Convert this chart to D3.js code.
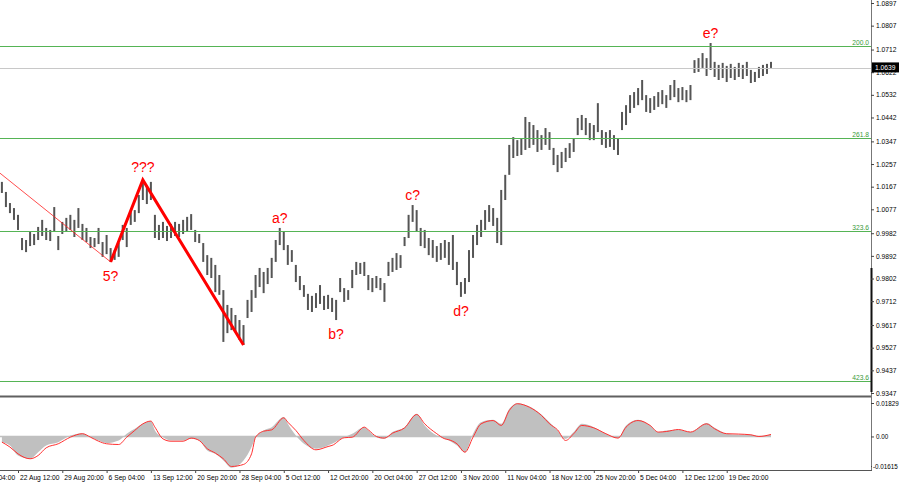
<!DOCTYPE html>
<html><head><meta charset="utf-8">
<script src="https://cdn.jsdelivr.net/npm/d3@7"></script>
<style>html,body{margin:0;padding:0;background:#fff;} svg{display:block;font-family:"Liberation Sans",Arial,sans-serif;}</style>
</head><body><svg id="c" width="900" height="485"></svg>
<script>
// ---- DATA ----
const barHigh=[1.0186,1.0146,1.0102,1.0082,1.0055,0.9963,0.9955,0.9987,0.9979,1.0007,
1.0035,1.0003,0.9995,1.0086,0.9971,1.0027,1.0043,1.0055,1.0035,1.0082,
1.0019,1.0003,0.9967,0.9963,1.0003,0.9947,0.9975,0.9923,0.9915,0.9943,
1.0015,1.0003,1.0066,1.0074,1.0134,1.0194,1.0170,1.0186,1.0055,1.0015,
1.0027,1.0011,1.0019,1.0027,1.0019,1.0035,1.0047,1.0058,0.9995,0.9979,
0.9943,0.9895,0.9884,0.9856,0.9816,0.9756,0.9697,0.9685,0.9657,0.9637,
0.9617,0.9717,0.9756,0.9816,0.9844,0.9828,0.9844,0.9884,0.9955,1.0003,
0.9987,0.9935,0.9915,0.9856,0.9812,0.9776,0.9741,0.9733,0.9744,0.9776,
0.9733,0.9737,0.9725,0.9717,0.9804,0.9764,0.9756,0.9836,0.9868,0.9864,
0.9868,0.9816,0.9804,0.9812,0.9804,0.9784,0.9868,0.9884,0.9903,0.9895,
0.9967,1.0055,1.0094,1.0074,1.0003,0.9995,0.9963,0.9955,0.9931,0.9943,
0.9955,0.9947,0.9975,0.9868,0.9788,0.9804,0.9915,0.9975,1.0015,1.0035,
1.0074,1.0094,1.0082,1.0043,1.0154,1.0214,1.0333,1.0364,1.0352,1.0360,
1.0444,1.0424,1.0412,1.0392,1.0372,1.0400,1.0384,1.0321,1.0293,1.0305,
1.0321,1.0340,1.0360,1.0440,1.0452,1.0440,1.0420,1.0412,1.0499,1.0392,
1.0384,1.0392,1.0372,1.0360,1.0464,1.0491,1.0531,1.0543,1.0559,1.0591,
1.0531,1.0519,1.0527,1.0543,1.0551,1.0531,1.0571,1.0591,1.0559,1.0563,
1.0551,1.0571,1.0670,1.0678,1.0698,1.0678,1.0738,1.0663,1.0651,1.0659,
1.0647,1.0655,1.0643,1.0659,1.0651,1.0663,1.0631,1.0623,1.0643,1.0651,
1.0655,1.0663];
const barLow=[1.0142,1.0086,1.0062,1.0035,0.9995,0.9915,0.9907,0.9931,0.9935,0.9955,
0.9971,0.9955,0.9951,0.9987,0.9915,0.9979,0.9987,0.9995,0.9967,1.0003,
0.9955,0.9947,0.9923,0.9927,0.9939,0.9888,0.9899,0.9868,0.9876,0.9888,
0.9955,0.9927,1.0015,1.0027,1.0062,1.0114,1.0098,1.0114,0.9963,0.9955,
0.9963,0.9951,0.9963,0.9971,0.9967,0.9979,0.9987,0.9995,0.9947,0.9943,
0.9868,0.9816,0.9804,0.9748,0.9737,0.9550,0.9585,0.9597,0.9589,0.9558,
0.9538,0.9645,0.9669,0.9725,0.9768,0.9744,0.9780,0.9804,0.9868,0.9935,
0.9915,0.9856,0.9868,0.9788,0.9756,0.9729,0.9677,0.9669,0.9685,0.9701,
0.9677,0.9681,0.9669,0.9637,0.9748,0.9709,0.9717,0.9764,0.9816,0.9820,
0.9812,0.9756,0.9748,0.9764,0.9756,0.9709,0.9812,0.9828,0.9836,0.9844,
0.9931,0.9963,1.0027,0.9987,0.9931,0.9923,0.9895,0.9884,0.9868,0.9876,
0.9884,0.9856,0.9836,0.9776,0.9729,0.9741,0.9788,0.9884,0.9935,0.9967,
0.9995,1.0027,1.0011,0.9943,0.9935,1.0114,1.0214,1.0281,1.0289,1.0293,
1.0313,1.0321,1.0333,1.0305,1.0313,1.0333,1.0313,1.0253,1.0225,1.0241,
1.0265,1.0281,1.0305,1.0372,1.0392,1.0372,1.0352,1.0352,1.0384,1.0333,
1.0321,1.0325,1.0313,1.0293,1.0392,1.0412,1.0460,1.0480,1.0491,1.0511,
1.0464,1.0460,1.0472,1.0484,1.0495,1.0480,1.0511,1.0523,1.0503,1.0511,
1.0503,1.0511,1.0619,1.0623,1.0639,1.0607,1.0631,1.0603,1.0591,1.0599,
1.0583,1.0599,1.0591,1.0603,1.0595,1.0607,1.0579,1.0583,1.0599,1.0607,
1.0615,1.0639];

const priceTicks=[1.0897,1.0807,1.0712,1.0622,1.0532,1.0442,1.0347,1.0257,1.0167,1.0077,0.9982,0.9892,0.9802,0.9712,0.9617,0.9527,0.9437,0.9347];
const timeLabels=["15 Aug 04:00","22 Aug 12:00","29 Aug 20:00","6 Sep 04:00","13 Sep 12:00","20 Sep 20:00","28 Sep 04:00","5 Oct 12:00","12 Oct 20:00","20 Oct 04:00","27 Oct 12:00","3 Nov 20:00","11 Nov 04:00","18 Nov 12:00","25 Nov 20:00","5 Dec 04:00","12 Dec 12:00","19 Dec 20:00"];
const timeFirstBar=-7, barsPerTimeTick=11;

const fibLabels=["200.0","261.8","323.6","423.6"];
const fibPrices=[1.0726,1.0360,0.9991,0.9395];
const currentPrice=1.0639;

const thinWaveIdx=[-0.5,27];
const thinWavePrice=[1.0221,0.9868];
const waveIdx=[27,35,60];
const wavePrice=[0.9868,1.0194,0.9538];

const waveLabels=["5?","???","a?","b?","c?","d?","e?"];
const waveLabelBar=[27,35,69,83,102,114,176];
const waveLabelSide=["below","above","above","below","above","below","above"];

const macdIdx=[0,2,4,7,9,11,14,17,20,22,24,26,29,31,33,35,37,38,40,42,45,47,49,51,53,55,57,60,62,63,65,67,70,71,73,75,78,81,82,85,87,90,91,93,95,97,100,103,105,108,110,111,113,115,117,119,122,124,126,128,131,134,136,138,140,142,144,147,150,153,155,158,161,163,165,168,171,175,177,180,183,186,188,191];
const macdHist=[-0.0031,-0.0049,-0.0104,-0.0122,-0.0086,-0.0049,-0.0031,0.0005,0.0018,-0.0004,-0.0022,-0.0036,-0.0022,0.0015,0.0042,0.0069,0.0084,0.0033,-0.0004,-0.0022,-0.0022,-0.0013,-0.0022,-0.0077,-0.0095,-0.0131,-0.0171,-0.0131,-0.0058,-0.0004,0.0033,0.0051,0.0106,0.0069,0.0005,-0.0040,-0.0067,-0.0049,-0.0040,-0.0004,0.0015,0.0051,0.0033,-0.0004,-0.0013,0.0024,0.0051,0.0124,0.0060,0.0005,-0.0013,-0.0022,-0.0049,-0.0086,0.0015,0.0078,0.0091,0.0069,0.0151,0.0182,0.0164,0.0120,0.0078,0.0033,-0.0013,0.0024,0.0069,0.0051,0.0015,-0.0009,0.0060,0.0091,0.0060,0.0024,0.0033,0.0036,0.0024,0.0073,0.0047,0.0015,0.0009,0.0009,0.0000,0.0011];
const macdSignal=[-0.0031,-0.0058,-0.0095,-0.0122,-0.0104,-0.0062,-0.0040,-0.0004,0.0015,-0.0004,-0.0026,-0.0040,-0.0044,-0.0004,0.0033,0.0069,0.0084,0.0051,-0.0013,-0.0026,-0.0026,-0.0009,-0.0022,-0.0067,-0.0091,-0.0122,-0.0164,-0.0153,-0.0095,-0.0004,0.0029,0.0036,0.0102,0.0078,0.0033,-0.0022,-0.0073,-0.0055,-0.0049,-0.0007,-0.0004,0.0051,0.0036,0.0000,-0.0009,0.0018,0.0047,0.0120,0.0069,0.0015,-0.0013,-0.0018,-0.0040,-0.0086,-0.0004,0.0069,0.0087,0.0060,0.0142,0.0179,0.0160,0.0115,0.0069,0.0036,-0.0022,0.0015,0.0060,0.0047,0.0015,-0.0009,0.0051,0.0087,0.0060,0.0024,0.0027,0.0038,0.0024,0.0069,0.0042,0.0015,0.0013,0.0009,0.0000,0.0011];
const macdTicks=[0.01829,0,-0.01615];
const macdTickLabels=["0.01829","0.00","-0.01615"];

// ---- LAYOUT ----
const W=900,H=485, plotR=871;
const svg=d3.select("#c");
const x=d3.scaleLinear().domain([0,barHigh.length-1]).range([1.9,771]);
const y=d3.scaleLinear().domain([0.9347,1.0897]).range([393,3]);
const yi=d3.scaleLinear().domain([-0.01615,0.01829]).range([466,403]);
const fs=6.7;

svg.append("defs").append("clipPath").attr("id","mainclip").append("rect").attr("x",0).attr("y",0).attr("width",plotR).attr("height",395);
const main=svg.append("g").attr("clip-path","url(#mainclip)");

// bars
main.append("g").selectAll("rect").data(barHigh).join("rect")
  .attr("x",(d,i)=>x(i)-1).attr("width",2)
  .attr("y",(d,i)=>y(d)).attr("height",(d,i)=>Math.max(1,y(barLow[i])-y(d)))
  .attr("fill","#555");

// current price line
main.append("line").attr("x1",0).attr("x2",plotR).attr("y1",Math.round(y(currentPrice))+0.5).attr("y2",Math.round(y(currentPrice))+0.5)
  .attr("stroke","#c8c8c8").attr("stroke-width",1);

// fib lines
fibPrices.forEach((p,k)=>{
  const yy=Math.round(y(p))+0.5;
  main.append("line").attr("x1",0).attr("x2",plotR).attr("y1",yy).attr("y2",yy).attr("stroke","#55b455").attr("stroke-width",1.2);
  main.append("text").attr("x",plotR-2).attr("y",yy-2).attr("text-anchor","end").attr("font-size",fs).attr("fill","#3a9a3a").text(fibLabels[k]);
});

// wave lines
const wl=d3.line().x(d=>x(d[0])).y(d=>y(d[1]));
main.append("path").attr("d",wl(thinWaveIdx.map((d,i)=>[d,thinWavePrice[i]]))).attr("fill","none").attr("stroke","#ff2020").attr("stroke-width",0.8);
main.append("path").attr("d",wl(waveIdx.map((d,i)=>[d,wavePrice[i]]))).attr("fill","none").attr("stroke","#ff0000").attr("stroke-width",3).attr("stroke-linejoin","miter");

// wave labels
waveLabels.forEach((t,k)=>{
  const b=waveLabelBar[k];
  const above=waveLabelSide[k]==="above";
  main.append("text").attr("x",x(b)).attr("y",above? y(barHigh[b])-(t==="???"?8:5) : y(barLow[b])+19)
    .attr("text-anchor","middle").attr("font-size",14).attr("fill","#ff0000").text(t);
});

// separator between panels
svg.append("rect").attr("x",0).attr("y",395.5).attr("width",plotR).attr("height",2).attr("fill","#606060");

// indicator
const ind=svg.append("g");
const pts=macdIdx.map((d,i)=>[d,macdHist[i],macdSignal[i]]);
ind.append("line").attr("x1",0).attr("x2",x(barHigh.length-1)).attr("y1",yi(0)).attr("y2",yi(0)).attr("stroke","#c0c0c0").attr("stroke-width",1.5);
ind.append("path").attr("d",d3.area().x(d=>x(d[0])).y0(yi(0)).y1(d=>yi(d[1])).curve(d3.curveMonotoneX)(pts))
  .attr("fill","#c0c0c0");
ind.append("path").attr("d",d3.line().x(d=>x(d[0])).y(d=>yi(d[2])).curve(d3.curveMonotoneX)(pts))
  .attr("fill","none").attr("stroke","#ff3030").attr("stroke-width",1);

// right axis line
svg.append("line").attr("x1",plotR+0.5).attr("x2",plotR+0.5).attr("y1",0).attr("y2",470).attr("stroke","#777").attr("stroke-width",1);
svg.append("rect").attr("x",plotR-0.5).attr("y",268).attr("width",2).attr("height",124).attr("fill","#111");

// price axis
const ay=svg.append("g").attr("transform",`translate(${plotR},0)`)
  .call(d3.axisRight(y).tickValues(priceTicks).tickSize(3).tickPadding(2).tickFormat(d3.format(".4f")));
ay.select(".domain").remove();
ay.selectAll("text").attr("font-size",fs).attr("fill","#000").attr("font-family","Liberation Sans, Arial, sans-serif");
ay.selectAll("line").attr("stroke","#444");

// indicator axis
const ai=svg.append("g").attr("transform",`translate(${plotR},0)`)
  .call(d3.axisRight(yi).tickValues(macdTicks).tickSize(3).tickPadding(2).tickFormat((d,i)=>macdTickLabels[i]));
ai.select(".domain").remove();
ai.selectAll("text").attr("font-size",6.3).attr("fill","#000").attr("font-family","Liberation Sans, Arial, sans-serif")
  .attr("x",(d)=>d<0?2:5);
ai.selectAll("line").attr("stroke","#444").attr("x2",(d)=>d<0?1:3);

// current price tag
const cy=y(currentPrice);
svg.append("rect").attr("x",plotR+1).attr("y",cy-5.5).attr("width",27).attr("height",10).attr("fill","#000");
svg.append("text").attr("x",plotR+4).attr("y",cy+2.3).attr("font-size",fs).attr("fill","#fff").text(d3.format(".4f")(currentPrice));

// time axis
const timeIdx=timeLabels.map((_,k)=>timeFirstBar+barsPerTimeTick*k);
const ax=svg.append("g").attr("transform","translate(0,470)")
  .call(d3.axisBottom(x).tickValues(timeIdx).tickSize(3).tickPadding(2).tickFormat((d,i)=>timeLabels[i]));
ax.select(".domain").remove();
ax.selectAll("text").attr("text-anchor","start").attr("x",1.5).attr("font-size",fs).attr("fill","#000").attr("font-family","Liberation Sans, Arial, sans-serif");
ax.selectAll("line").attr("stroke","#444");
svg.append("line").attr("x1",0).attr("x2",plotR+1).attr("y1",470.5).attr("y2",470.5).attr("stroke","#555").attr("stroke-width",1);
</script></body></html>
